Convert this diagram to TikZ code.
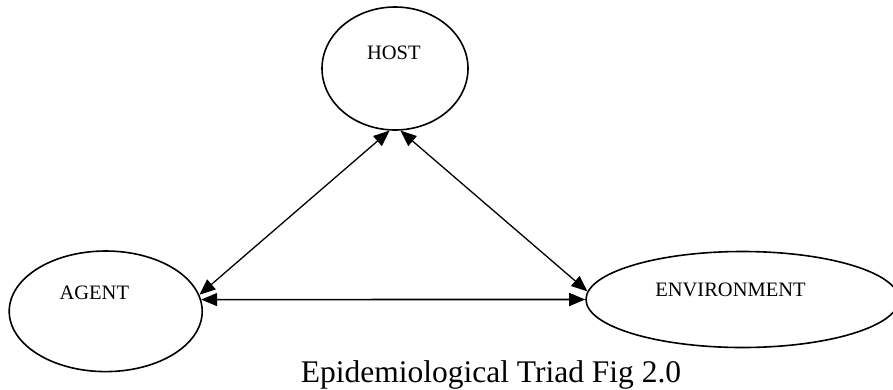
\documentclass[tikz,border=0pt]{standalone}
\usepackage{fontspec}
\setmainfont{Liberation Serif}
\usetikzlibrary{shapes.geometric,arrows.meta}
\begin{document}
\begin{tikzpicture}[x=1pt,y=-1pt,
  oval/.style={ellipse,draw,line width=1.6pt,inner sep=0pt},
  lbl/.style={anchor=base,inner sep=0pt,font=\fontsize{20.5}{24}\selectfont},
  tip/.style={Triangle[length=16pt,width=13pt]},
  link/.style={line width=1.3pt,{Triangle[length=16pt,width=13pt]}-{Triangle[length=16pt,width=13pt]}}]
\useasboundingbox (0,0) rectangle (893,389);
% ellipses
\node[oval,minimum width=146pt,minimum height=123pt] (host) at (395,68.5) {};
\node[oval,minimum width=193pt,minimum height=120.6pt] (agent) at (105.7,311.3) {};
\node[oval,minimum width=312.8pt,minimum height=96pt] (env) at (742.4,299.5) {};
% labels
\node[lbl] (hostlbl) at (393.8,59.4) {HOST};
\node[lbl] (agentlbl) at (94.3,299.3) {AGENT};
\node[lbl] (envlbl) at (730.5,296.7) {ENVIRONMENT};
% connectors
\draw[link] (host.265) -- (agent.10);
\draw[link] (host.275) -- (env.177);
\draw[link,line width=1.6pt] (agent.7) -- (env.west);
% caption
\node[anchor=base,inner sep=0pt,font=\fontsize{31.5}{36}\selectfont] (caption) at (491,382) {Epidemiological Triad Fig 2.0};
\end{tikzpicture}
\end{document}
